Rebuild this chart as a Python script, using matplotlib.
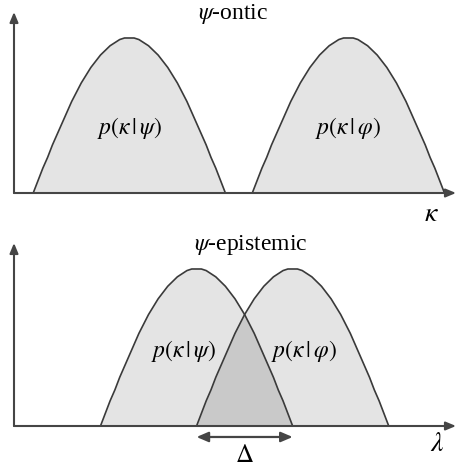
import numpy as np
import matplotlib
matplotlib.use("Agg")
import matplotlib.pyplot as plt

plt.rcParams['font.family'] = ['Liberation Serif', 'DejaVu Serif']
plt.rcParams['mathtext.fontset'] = 'stix'

# bump profile (height at 41 evenly spaced points across one bump)
profile = [0.00, 0.08, 0.16, 0.23, 0.31, 0.38, 0.45, 0.52, 0.59, 0.65,
           0.71, 0.76, 0.81, 0.85, 0.89, 0.92, 0.95, 0.97, 0.99, 1.00,
           1.00,
           1.00, 0.99, 0.97, 0.95, 0.92, 0.89, 0.85, 0.81, 0.76, 0.71,
           0.65, 0.59, 0.52, 0.45, 0.38, 0.31, 0.23, 0.16, 0.08, 0.00]
bump_width = 2.0

# where each bump starts on the horizontal axis
ontic_starts = [0.2, 2.48]
epistemic_starts = [0.9, 1.9]
labels = [r'$p(\kappa\,|\,\psi)$', r'$p(\kappa\,|\,\varphi)$']
titles = [r'$\psi$-ontic', r'$\psi$-epistemic']
axis_names = [r'$\kappa$', r'$\lambda$']

line_col = '#3a3a3a'
fill_col = '#e4e4e4'
overlap_col = '#c9c9c9'
axis_col = '#454545'

W, H = 456, 466
fig = plt.figure(figsize=(W / 100, H / 100), dpi=100)

ax_top = fig.add_axes([14 / W, (H - 193) / H, 442 / W, 181 / H])
ax_bot = fig.add_axes([14 / W, (H - 426) / H, 442 / W, 183 / H])

prof = np.array(profile)
xs_unit = np.linspace(0, bump_width, len(prof))


def draw_axes(ax, ymax):
    ax.set_xlim(0, 4.6)
    ax.set_ylim(0, ymax)
    ax.axis('off')
    arrow = dict(arrowstyle='-|>,head_length=0.6,head_width=0.25', color=axis_col,
                 lw=1.5, shrinkA=0, shrinkB=0)
    ax.annotate('', xy=(0, 1.0), xytext=(0, 0), xycoords='axes fraction',
                arrowprops=arrow, annotation_clip=False)
    ax.annotate('', xy=(1.0, 0), xytext=(0, 0), xycoords='axes fraction',
                arrowprops=arrow, annotation_clip=False)


draw_axes(ax_top, 181 / 155)
draw_axes(ax_bot, 183 / 157)

# top panel: separated bumps
for s, lab in zip(ontic_starts, labels):
    x = s + xs_unit
    ax_top.fill_between(x, 0, prof, color=fill_col, lw=0)
    ax_top.plot(x, prof, color=line_col, lw=1.2)
    ax_top.text(s + bump_width / 2, 0.42, lab, ha='center', va='center', fontsize=17)

# bottom panel: overlapping bumps
curves = []
for s in epistemic_starts:
    x = s + xs_unit
    ax_bot.fill_between(x, 0, prof, color=fill_col, lw=0)
    curves.append(x)

step = len(prof) // 2
ov_x = curves[1][:step + 1]
ov_y = np.minimum(prof[step:], prof[:step + 1])
ax_bot.fill_between(ov_x, 0, ov_y, color=overlap_col, lw=0)
for x in curves:
    ax_bot.plot(x, prof, color=line_col, lw=1.2)

ax_bot.text(epistemic_starts[0] + bump_width / 2 - 0.14, 0.48, labels[0],
            ha='center', va='center', fontsize=17)
ax_bot.text(epistemic_starts[1] + bump_width / 2 + 0.12, 0.48, labels[1],
            ha='center', va='center', fontsize=17)

# overlap width arrow
ax_bot.annotate('', xy=(epistemic_starts[1], -0.07),
                xytext=(epistemic_starts[0] + bump_width, -0.07),
                arrowprops=dict(arrowstyle='<|-|>,head_length=0.7,head_width=0.3',
                                color=axis_col, lw=1.6, shrinkA=0, shrinkB=0),
                annotation_clip=False)
ax_bot.text((epistemic_starts[1] + epistemic_starts[0] + bump_width) / 2, -0.19,
            r'$\Delta$', ha='center', va='center', fontsize=18, clip_on=False)

ax_top.text(0.495, 0.99, titles[0], transform=ax_top.transAxes, ha='center',
            va='center', fontsize=17)
ax_bot.text(0.535, 0.99, titles[1], transform=ax_bot.transAxes, ha='center',
            va='center', fontsize=17)

ax_top.text(0.945, -0.12, axis_names[0], transform=ax_top.transAxes, ha='center',
            va='center', fontsize=20)
ax_bot.text(0.957, -0.1, axis_names[1], transform=ax_bot.transAxes, ha='center',
            va='center', fontsize=20)

fig.savefig('out.png', dpi=100, facecolor='white')
